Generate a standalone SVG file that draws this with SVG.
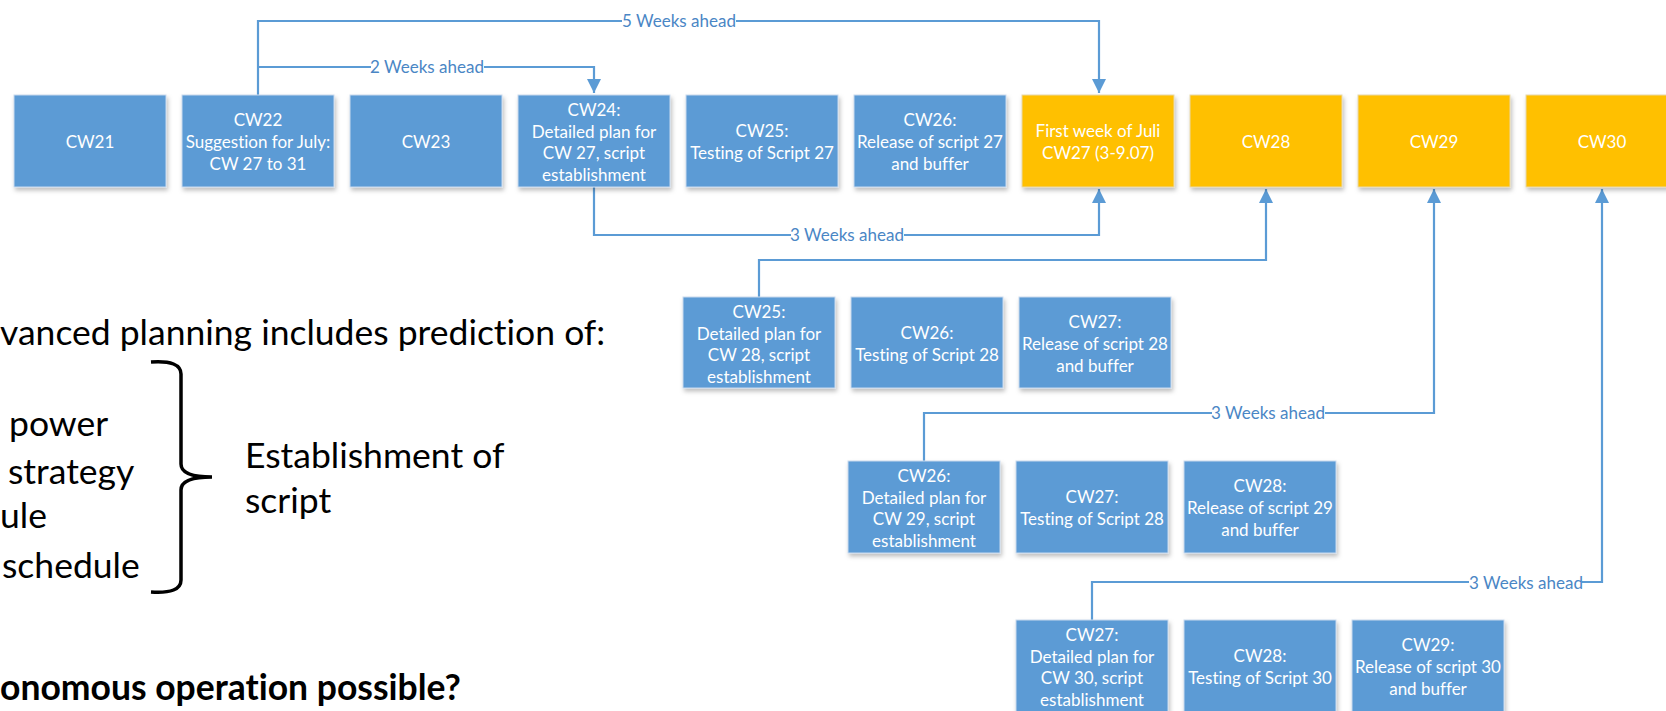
<svg xmlns="http://www.w3.org/2000/svg" width="1666" height="711" viewBox="0 0 1666 711">
<style>
  .box { stroke: #c9d9ee; stroke-width: 1; filter: url(#sh); }
  .blue { fill: #5B9BD5; }
  .orange { fill: #FFC000; stroke: #e8d8a8; }
  .bt { font-family: Lato, "Liberation Sans", sans-serif; font-size: 17px; fill: #ffffff; text-anchor: middle; font-variant-ligatures: none; }
  .conn { fill: none; stroke: #5B9BD5; stroke-width: 2.2; }
  .lbl { font-family: Lato, "Liberation Sans", sans-serif; font-size: 17px; fill: #4a86c5; text-anchor: middle; }
  .lblbg { fill: #ffffff; }
  .big { font-family: Lato, "Liberation Sans", sans-serif; font-size: 35.5px; fill: #000000; font-variant-ligatures: none; }
</style>
<defs>
  <filter id="sh" x="-10%" y="-10%" width="125%" height="130%">
    <feDropShadow dx="1.5" dy="3" stdDeviation="2" flood-color="#000" flood-opacity="0.25"/>
  </filter>
  <marker id="arr" markerUnits="userSpaceOnUse" markerWidth="15" markerHeight="15" refX="14" refY="7" orient="auto">
    <path d="M0,0 L14,7 L0,14 z" fill="#5B9BD5"/>
  </marker>
</defs>

<g id="connectors">
  <path class="conn" d="M258,95 V21 H1099 V93" marker-end="url(#arr)"/>
  <path class="conn" d="M258,67 H594 V93" marker-end="url(#arr)"/>
  <path class="conn" d="M594,187 V235 H1099 V189" marker-end="url(#arr)"/>
  <path class="conn" d="M759,297 V260 H1266 V189" marker-end="url(#arr)"/>
  <path class="conn" d="M924,461 V413 H1434 V189" marker-end="url(#arr)"/>
  <path class="conn" d="M1092,620 V582 H1602 V189" marker-end="url(#arr)"/>
  <rect class="lblbg" x="622" y="11" width="114" height="20"/>
  <text class="lbl" x="679" y="27">5 Weeks ahead</text>
  <rect class="lblbg" x="371" y="57" width="113" height="20"/>
  <text class="lbl" x="427" y="73">2 Weeks ahead</text>
  <rect class="lblbg" x="791" y="225" width="113" height="20"/>
  <text class="lbl" x="847" y="241">3 Weeks ahead</text>
  <rect class="lblbg" x="1212" y="403" width="113" height="20"/>
  <text class="lbl" x="1268" y="419">3 Weeks ahead</text>
  <rect class="lblbg" x="1469" y="572" width="113" height="20"/>
  <text class="lbl" x="1526" y="589">3 Weeks ahead</text>
</g>

<g id="cw21"><rect class="box blue" x="14" y="95" width="152" height="92"/>
  <text class="bt" x="90" y="148">CW21</text></g>
<g id="cw22"><rect class="box blue" x="182" y="95" width="152" height="92"/>
  <text class="bt" x="258" y="126">CW22</text>
  <text class="bt" x="258" y="148">Suggestion for July:</text>
  <text class="bt" x="258" y="169.5">CW 27 to 31</text></g>
<g id="cw23"><rect class="box blue" x="350" y="95" width="152" height="92"/>
  <text class="bt" x="426" y="148">CW23</text></g>
<g id="cw24"><rect class="box blue" x="518" y="95" width="152" height="92"/>
  <text class="bt" x="594" y="116">CW24:</text>
  <text class="bt" x="594" y="137.5">Detailed plan for</text>
  <text class="bt" x="594" y="159">CW 27, script</text>
  <text class="bt" x="594" y="181">establishment</text></g>
<g id="cw25"><rect class="box blue" x="686" y="95" width="152" height="92"/>
  <text class="bt" x="762" y="137">CW25:</text>
  <text class="bt" x="762" y="159">Testing of Script 27</text></g>
<g id="cw26"><rect class="box blue" x="854" y="95" width="152" height="92"/>
  <text class="bt" x="930" y="126">CW26:</text>
  <text class="bt" x="930" y="148">Release of script 27</text>
  <text class="bt" x="930" y="169.5">and buffer</text></g>
<g id="cw27"><rect class="box orange" x="1022" y="95" width="152" height="92"/>
  <text class="bt" x="1098" y="136.5">First week of Juli</text>
  <text class="bt" x="1098" y="159">CW27 (3-9.07)</text></g>
<g id="cw28"><rect class="box orange" x="1190" y="95" width="152" height="92"/>
  <text class="bt" x="1266" y="148">CW28</text></g>
<g id="cw29"><rect class="box orange" x="1358" y="95" width="152" height="92"/>
  <text class="bt" x="1434" y="148">CW29</text></g>
<g id="cw30"><rect class="box orange" x="1526" y="95" width="152" height="92"/>
  <text class="bt" x="1602" y="148">CW30</text></g>

<g id="r2a"><rect class="box blue" x="683" y="297" width="152" height="91"/>
  <text class="bt" x="759" y="318">CW25:</text>
  <text class="bt" x="759" y="339.5">Detailed plan for</text>
  <text class="bt" x="759" y="361">CW 28, script</text>
  <text class="bt" x="759" y="383">establishment</text></g>
<g id="r2b"><rect class="box blue" x="851" y="297" width="152" height="91"/>
  <text class="bt" x="927" y="339">CW26:</text>
  <text class="bt" x="927" y="361">Testing of Script 28</text></g>
<g id="r2c"><rect class="box blue" x="1019" y="297" width="152" height="91"/>
  <text class="bt" x="1095" y="328">CW27:</text>
  <text class="bt" x="1095" y="350">Release of script 28</text>
  <text class="bt" x="1095" y="371.5">and buffer</text></g>

<g id="r3a"><rect class="box blue" x="848" y="461" width="152" height="92"/>
  <text class="bt" x="924" y="482">CW26:</text>
  <text class="bt" x="924" y="503.5">Detailed plan for</text>
  <text class="bt" x="924" y="525">CW 29, script</text>
  <text class="bt" x="924" y="547">establishment</text></g>
<g id="r3b"><rect class="box blue" x="1016" y="461" width="152" height="92"/>
  <text class="bt" x="1092" y="503">CW27:</text>
  <text class="bt" x="1092" y="525">Testing of Script 28</text></g>
<g id="r3c"><rect class="box blue" x="1184" y="461" width="152" height="92"/>
  <text class="bt" x="1260" y="492">CW28:</text>
  <text class="bt" x="1260" y="514">Release of script 29</text>
  <text class="bt" x="1260" y="535.5">and buffer</text></g>

<g id="r4a"><rect class="box blue" x="1016" y="620" width="152" height="92"/>
  <text class="bt" x="1092" y="641">CW27:</text>
  <text class="bt" x="1092" y="662.5">Detailed plan for</text>
  <text class="bt" x="1092" y="684">CW 30, script</text>
  <text class="bt" x="1092" y="706">establishment</text></g>
<g id="r4b"><rect class="box blue" x="1184" y="620" width="152" height="92"/>
  <text class="bt" x="1260" y="662">CW28:</text>
  <text class="bt" x="1260" y="684">Testing of Script 30</text></g>
<g id="r4c"><rect class="box blue" x="1352" y="620" width="152" height="92"/>
  <text class="bt" x="1428" y="651">CW29:</text>
  <text class="bt" x="1428" y="673">Release of script 30</text>
  <text class="bt" x="1428" y="694.5">and buffer</text></g>

<g id="notes">
  <text class="big" x="0" y="345">vanced planning includes prediction of:</text>
  <text class="big" x="9" y="436">power</text>
  <text class="big" x="8" y="484">strategy</text>
  <text class="big" x="0" y="528">ule</text>
  <text class="big" x="2" y="578">schedule</text>
  <path d="M151,362 Q181,360 181,374 L181,464 Q181,477 212,477 Q181,477 181,490 L181,580 Q181,594 151,592" fill="none" stroke="#000" stroke-width="3.5"/>
  <text class="big" x="245" y="468">Establishment of</text>
  <text class="big" x="245" y="513">script</text>
  <text class="big" x="0" y="700" font-weight="bold">onomous operation possible?</text>
</g>
</svg>
